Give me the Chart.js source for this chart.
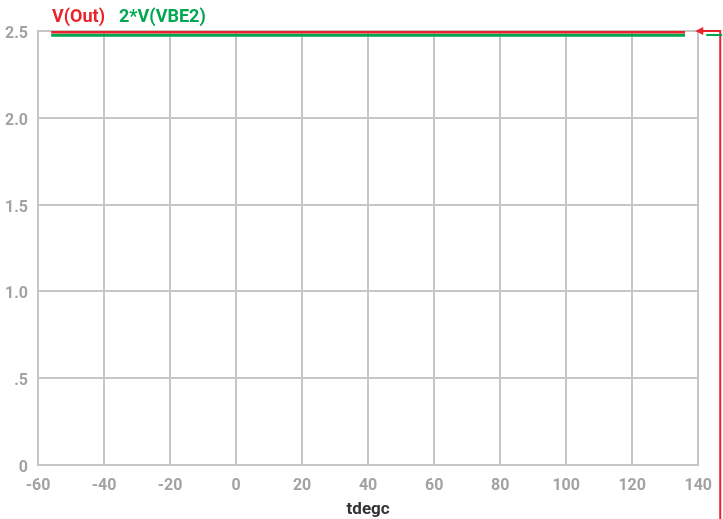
<!DOCTYPE html>
<html>
<head>
  <title>V(Out) vs tdegc</title>
  <script src="https://cdn.jsdelivr.net/npm/chart.js"></script>
  <style>
    body {
      margin: 0;
      background: #ffffff;
    }
    #chart {
      display: block;
    }
  </style>
</head>
<body>
  <canvas id="chart" width="723" height="519"></canvas>

  <script>
    // temperature sweep (x) and the two traces
    const temps = [-56, -40, -20, 0, 20, 40, 60, 80, 100, 120, 136];
    const vOut = [2.494, 2.494, 2.494, 2.494, 2.494, 2.494, 2.494, 2.494, 2.494, 2.494, 2.494];
    const vbe2x2 = [2.476, 2.476, 2.476, 2.476, 2.476, 2.476, 2.476, 2.476, 2.476, 2.476, 2.476];
    const xTicks = [-60, -40, -20, 0, 20, 40, 60, 80, 100, 120, 140];
    const yTicks = [0, 0.5, 1.0, 1.5, 2.0, 2.5];

    const RED = '#e8232b';
    const GREEN = '#00a650';
    const GRID = '#c6c6c6';
    const TICK = '#a2a2a2';
    const FONT = "'Roboto', 'Liberation Sans', sans-serif";

    function yLabel(v) {
      if (v === 0) return '0';
      if (v === 0.5) return '.5';
      return v.toFixed(1);
    }

    // trace names drawn in their own colour above the plot
    const titleLabels = {
      id: 'titleLabels',
      afterDraw(chart) {
        const c = chart.ctx;
        c.save();
        c.font = 'bold 18px ' + FONT;
        c.textBaseline = 'middle';
        let x = chart.chartArea.left + 14;
        chart.data.datasets.forEach(ds => {
          c.fillStyle = ds.borderColor;
          c.fillText(ds.label, x, 17);
          x += c.measureText(ds.label).width + 14;
        });
        c.restore();
      }
    };

    // end-of-trace markers on the right edge
    const edgeMarkers = {
      id: 'edgeMarkers',
      afterDraw(chart) {
        const c = chart.ctx;
        const a = chart.chartArea;
        const ys = chart.scales.y;
        c.save();
        // red: arrow into the plot, then down the right side
        const yr = Math.round(ys.getPixelForValue(vOut[vOut.length - 1])) - 1;
        c.strokeStyle = RED;
        c.fillStyle = RED;
        c.lineWidth = 2;
        c.beginPath();
        c.moveTo(a.right + 2, yr);
        c.lineTo(a.right + 22, yr);
        c.lineTo(a.right + 22, chart.height);
        c.stroke();
        c.beginPath();
        c.moveTo(a.right - 3, yr);
        c.lineTo(a.right + 5, yr - 4);
        c.lineTo(a.right + 5, yr + 4);
        c.closePath();
        c.fill();
        // green: short tick at its level
        const yg = Math.round(ys.getPixelForValue(vbe2x2[vbe2x2.length - 1]));
        c.strokeStyle = GREEN;
        c.lineWidth = 2;
        c.beginPath();
        c.moveTo(a.right + 8, yg);
        c.lineTo(a.right + 24, yg);
        c.stroke();
        c.restore();
      }
    };

    const ctx = document.getElementById('chart').getContext('2d');
    new Chart(ctx, {
      type: 'line',
      data: {
        datasets: [
          {
            label: 'V(Out)',
            data: temps.map((t, i) => ({ x: t, y: vOut[i] })),
            borderColor: RED,
            borderWidth: 3,
            pointRadius: 0,
            tension: 0
          },
          {
            label: '2*V(VBE2)',
            data: temps.map((t, i) => ({ x: t, y: vbe2x2[i] })),
            borderColor: GREEN,
            borderWidth: 3,
            pointRadius: 0,
            tension: 0
          }
        ]
      },
      options: {
        responsive: false,
        animation: false,
        layout: {
          padding: { top: 31, right: 24, left: 0, bottom: 0 }
        },
        plugins: {
          legend: { display: false },
          tooltip: { enabled: false }
        },
        scales: {
          x: {
            type: 'linear',
            min: -60,
            max: 140,
            afterFit: s => { s.height = 54; },
            afterBuildTicks: s => { s.ticks = xTicks.map(v => ({ value: v })); },
            grid: { color: GRID, lineWidth: 2, drawTicks: false },
            border: { color: GRID, width: 2 },
            ticks: {
              color: TICK,
              padding: 11,
              font: { family: FONT, size: 16, weight: 'bold' },
              maxRotation: 0
            },
            title: {
              display: true,
              text: 'tdegc',
              color: '#333333',
              font: { family: FONT, size: 17, weight: 'bold' },
              padding: { top: -2, bottom: -1 }
            }
          },
          y: {
            type: 'linear',
            min: 0,
            max: 2.5,
            afterFit: s => { s.width = 38; },
            afterBuildTicks: s => { s.ticks = yTicks.map(v => ({ value: v })); },
            grid: { color: GRID, lineWidth: 2, drawTicks: false },
            border: { color: GRID, width: 2 },
            ticks: {
              color: TICK,
              padding: 10,
              labelOffset: 3,
              callback: v => yLabel(v),
              font: { family: FONT, size: 16, weight: 'bold' }
            }
          }
        }
      },
      plugins: [titleLabels, edgeMarkers]
    });
  </script>
</body>
</html>
